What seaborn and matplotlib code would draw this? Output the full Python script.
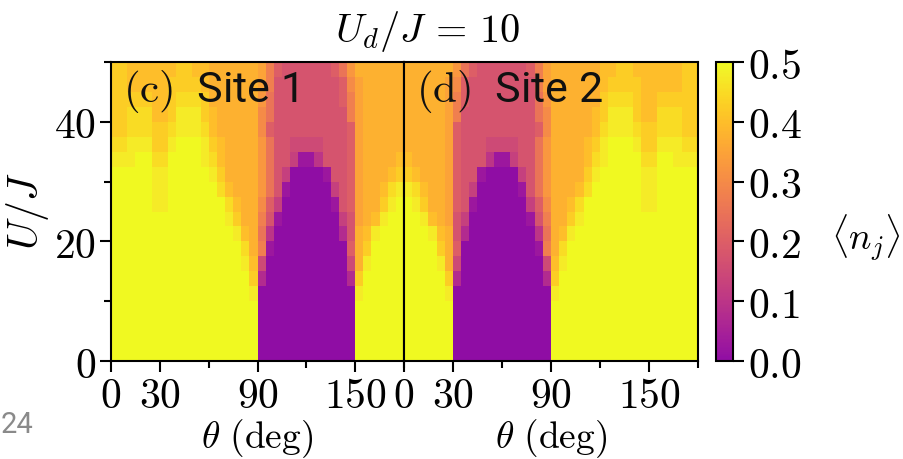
import numpy as np
import matplotlib
matplotlib.use("Agg")
import matplotlib.pyplot as plt
from matplotlib.colors import ListedColormap
import seaborn as sns

# ---------------- data ----------------
# theta bins: 0..180 deg in 5-deg steps (36 columns); U/J bins: 50..0 in 2.5 steps (20 rows, top row first)
theta_edges = np.arange(0, 181, 5)
u_edges = np.arange(50, -0.1, -2.5)
# each character is a level: int(ch, 36) / 40  ->  '0' = 0.0 ... 'k' = 0.5
site1_rows = [
    "hhgggggghhggffffffeb87777778adffffff",
    "hhggggghhhhgffffffeb777777778cefffff",
    "hhhhhgghiiihffffffda777777778befffff",
    "hhiiigghjjjhgfffffca777777777befffff",
    "hhiiihhijjjigfffffc87777777778efffff",
    "iijjjhhjkkkjhgffffda7766667778efffff",
    "jjjkkiikkkkjigffffda7751147778effffg",
    "kkkkkjjkkkkkjhffffda7500001778efffgh",
    "kkkkkjjkkkkkkigfffda7100000578effgij",
    "kkkkkjjkkkkkkkigffc85000000178effhjk",
    "kkkkkkkkkkkkkkjhffb71000000057efgjkk",
    "kkkkkkkkkkkkkkkjgfa40000000037fgjkkk",
    "kkkkkkkkkkkkkkkkifb10000000008fhkkkk",
    "kkkkkkkkkkkkkkkkjg600000000006fjkkkk",
    "kkkkkkkkkkkkkkkkkh300000000003hkkkkk",
    "kkkkkkkkkkkkkkkkkj000000000000jkkkkk",
    "kkkkkkkkkkkkkkkkkk000000000000kkkkkk",
    "kkkkkkkkkkkkkkkkkk000000000000kkkkkk",
    "kkkkkkkkkkkkkkkkkk000000000000kkkkkk",
    "kkkkkkkkkkkkkkkkkk000000000000kkkkkk",
]
site2_rows = [
    "ffffffda87777778beffffffgghhgggggghh",
    "fffffec877777777beffffffghhhhggggghh",
    "fffffeb877777777adffffffhiiihgghhhhh",
    "fffffeb777777777acfffffghjjjhggiiihh",
    "fffffe87777777778cfffffgijjjihhiiihh",
    "fffffe8777666677adffffghjkkkjhhjjjii",
    "gffffe8777411577adffffgijkkkkiikkjjj",
    "hgfffe8771000057adffffhjkkkkkjjkkkkk",
    "jigffe8750000017adfffgikkkkkkjjkkkkk",
    "kjhffe87100000058cffgikkkkkkkjjkkkkk",
    "kkjgfe75000000017bffhjkkkkkkkkkkkkkk",
    "kkkjgf73000000004afgjkkkkkkkkkkkkkkk",
    "kkkkhf80000000001bfikkkkkkkkkkkkkkkk",
    "kkkkjf600000000006gjkkkkkkkkkkkkkkkk",
    "kkkkkh300000000003hkkkkkkkkkkkkkkkkk",
    "kkkkkj000000000000jkkkkkkkkkkkkkkkkk",
    "kkkkkk000000000000kkkkkkkkkkkkkkkkkk",
    "kkkkkk000000000000kkkkkkkkkkkkkkkkkk",
    "kkkkkk000000000000kkkkkkkkkkkkkkkkkk",
    "kkkkkk000000000000kkkkkkkkkkkkkkkkkk",
]
x_major = [0, 30, 90, 150]
x_minor = [60, 120, 180]
y_major = [0, 20, 40]
y_minor = [10, 30, 50]
cbar_ticks = [0.0, 0.1, 0.2, 0.3, 0.4, 0.5]
panel_labels = ["c", "d"]
panel_names = ["Site 1", "Site 2"]


def decode(rows):
    return np.array([[int(c, 36) / 40.0 for c in r] for r in rows])


site1 = decode(site1_rows)
site2 = decode(site2_rows)

# ---------------- style ----------------
plt.rcParams["mathtext.fontset"] = "cm"
plt.rcParams["axes.linewidth"] = 1.5
FS = 30
cmap = ListedColormap(plt.cm.plasma(np.linspace(0.3, 1.0, 256)))

fig = plt.figure(figsize=(9.04, 4.59), dpi=100)
ax1 = fig.add_axes([0.1228, 0.2135, 0.3241, 0.6514])
ax2 = fig.add_axes([0.4469, 0.2135, 0.3252, 0.6514])
cax = fig.add_axes([0.792, 0.2135, 0.0188, 0.6514])

dtheta = theta_edges[1] - theta_edges[0]
du = u_edges[0] - u_edges[1]

for k, (ax, data) in enumerate(zip([ax1, ax2], [site1, site2])):
    sns.heatmap(data, ax=ax, cmap=cmap, vmin=0, vmax=0.5,
                cbar=(k == 1), cbar_ax=cax if k == 1 else None,
                xticklabels=False, yticklabels=False, rasterized=True)
    for s in ax.spines.values():
        s.set_visible(True)
        s.set_linewidth(1.5)
        s.set_color("black")
    ax.set_xticks([t / dtheta for t in x_major])
    ax.set_xticklabels([rf"${t}$" for t in x_major], fontsize=FS)
    ax.set_xticks([t / dtheta for t in x_minor], minor=True)
    ax.tick_params(axis="x", which="major", direction="out", length=8, width=1.5, pad=2)
    ax.tick_params(axis="x", which="minor", direction="out", length=5, width=1.5)
    ax.set_xlabel(r"$\theta\ (\mathrm{deg})$", fontsize=27, labelpad=0)
    if k == 0:
        ax.set_yticks([(50 - u) / du for u in y_major])
        ax.set_yticklabels([rf"${u}$" for u in y_major], fontsize=FS)
        ax.set_yticks([(50 - u) / du for u in y_minor], minor=True)
        ax.tick_params(axis="y", which="major", direction="out", length=8, width=1.5, pad=3, rotation=0)
        ax.tick_params(axis="y", which="minor", direction="out", length=5, width=1.5)
        ax.set_ylabel(r"$U/J$", fontsize=FS, labelpad=2)
    else:
        ax.set_yticks([])
        ax.set_ylabel("")
    ax.text(0.041, 0.866, rf"$(\mathrm{{{panel_labels[k]}}})$  {panel_names[k]}",
            transform=ax.transAxes, fontsize=31, family="Roboto",
            ha="left", va="baseline", color="#111111")

cb = ax2.collections[0].colorbar
cb.outline.set_visible(True)
cb.outline.set_linewidth(1.5)
cb.outline.set_edgecolor("black")
cb.set_ticks(cbar_ticks)
cb.set_ticklabels([rf"${t:.1f}$" for t in cbar_ticks])
cax.tick_params(labelsize=FS, length=8, width=1.5, pad=3, direction="out")

fig.text(428 / 904, 1 - 42 / 459, r"$U_d/J\,=\,10$", fontsize=29, ha="center", va="baseline")
fig.text(866 / 904, 1 - 238 / 459, r"$\langle n_j \rangle$", fontsize=27, ha="center", va="center")
fig.text(0.001, 1 - 433 / 459, "24", fontsize=21, family="Roboto", color="#8a8a8a", va="baseline")

fig.savefig("out.png", dpi=100)
